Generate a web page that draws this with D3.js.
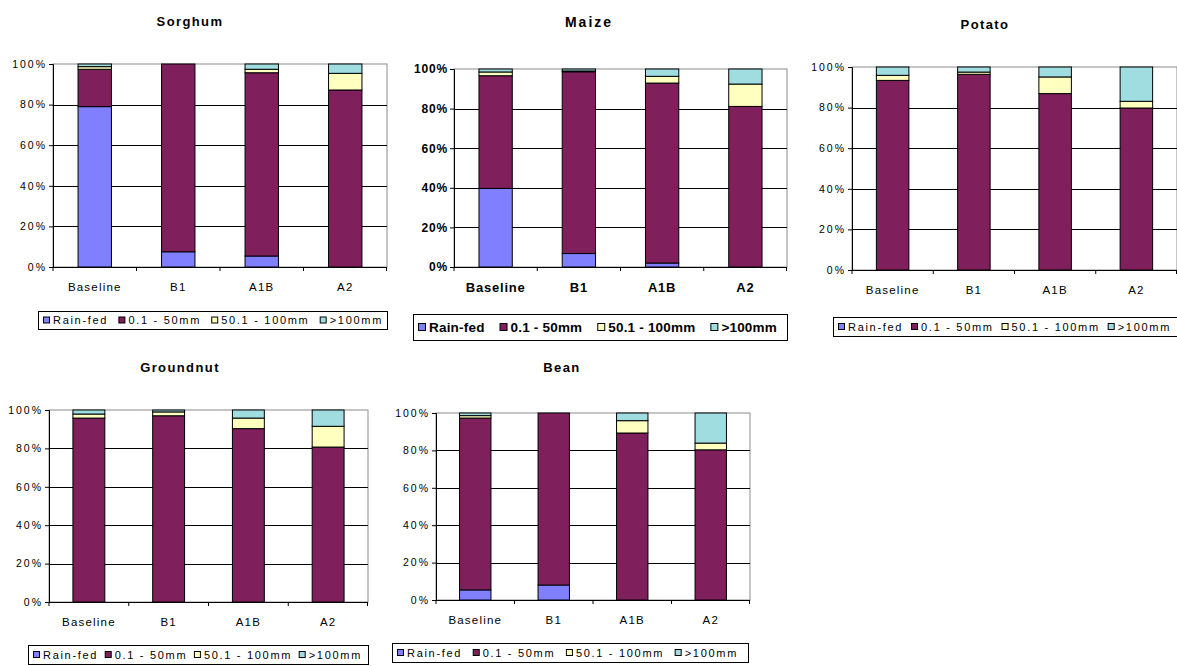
<!DOCTYPE html>
<html>
<head>
<meta charset="utf-8">
<script src="https://cdn.jsdelivr.net/npm/d3@7"></script>
<style>
  html, body { margin: 0; padding: 0; background: #fff; }
  svg { display: block; }
</style>
</head>
<body>
<svg id="chart" width="1177" height="666"></svg>
<script>
// ---------------- DATA ----------------
const scenarios = ["Baseline", "B1", "A1B", "A2"];
const seriesNames = ["Rain-fed", "0.1 - 50mm", "50.1 - 100mm", ">100mm"];
const yTickValues = [0, 20, 40, 60, 80, 100];
const yTickLabels = ["0%", "20%", "40%", "60%", "80%", "100%"];
const cropNames = ["Sorghum", "Maize", "Potato", "Groundnut", "Bean"];

// rows = scenarios, columns = series (percent of area)
const sorghumValues   = [[79.0, 18.4, 1.3, 1.3], [7.5, 92.5, 0, 0],   [5.4, 90.3, 1.7, 2.6], [0, 87.2, 8.2, 4.6]];
const maizeValues     = [[39.7, 56.9, 1.9, 1.5], [6.8, 91.8, 0.4, 1.0], [2.0, 90.9, 3.4, 3.7], [0, 81.1, 11.3, 7.6]];
const potatoValues    = [[0, 93.4, 2.5, 4.1],    [0, 96.4, 1.1, 2.5],  [0, 86.9, 8.2, 4.9],   [0, 79.8, 3.3, 16.9]];
const groundnutValues = [[0, 95.8, 2.1, 2.1],    [0, 97.0, 2.0, 1.0],  [0, 90.3, 5.5, 4.2],   [0, 80.7, 10.8, 8.5]];
const beanValues      = [[5.4, 91.9, 1.3, 1.4],  [8.0, 92.0, 0, 0],    [0, 89.3, 6.6, 4.1],   [0, 80.3, 3.6, 16.1]];

// ---------------- STYLE / LAYOUT ----------------
const seriesColors = ["#7f7fff", "#7f1f5c", "#ffffc0", "#a0dde0"];

const lightStyle = {
  title: { size: 13, weight: "bold", ls: 1.4 },
  tick:  { size: 10.5, weight: "normal", ls: 2 },
  xlab:  { size: 11.5, weight: "normal", ls: 1.2 },
  legend:{ size: 11, weight: "normal", ls: 1.7 }
};
const boldStyle = {
  title: { size: 14, weight: "bold", ls: 2 },
  tick:  { size: 12, weight: "bold", ls: 0.8 },
  xlab:  { size: 13, weight: "bold", ls: 0.8 },
  legend:{ size: 13.5, weight: "bold", ls: 0.2 }
};

const panels = [
  { name: cropNames[0], values: sorghumValues,   plot: { x: 53,  y: 64,  w: 334, h: 203 }, title: { x: 190, y: 26 }, legend: { x: 38,  y: 311, w: 349, h: 18, padR: 4 }, style: lightStyle },
  { name: cropNames[1], values: maizeValues,     plot: { x: 454, y: 69,  w: 333, h: 198 }, title: { x: 589, y: 27 }, legend: { x: 413, y: 314, w: 374, h: 26, padR: 10 }, style: boldStyle },
  { name: cropNames[2], values: potatoValues,    plot: { x: 852, y: 67,  w: 325, h: 203 }, title: { x: 985, y: 29 }, legend: { x: 833, y: 317, w: 352, h: 19, padR: 14 }, style: lightStyle },
  { name: cropNames[3], values: groundnutValues, plot: { x: 49,  y: 410, w: 319, h: 192 }, title: { x: 180, y: 372 }, legend: { x: 28,  y: 645, w: 340, h: 19, padR: 6 }, style: lightStyle },
  { name: cropNames[4], values: beanValues,      plot: { x: 436, y: 413, w: 314, h: 187 }, title: { x: 562, y: 372 }, legend: { x: 392, y: 643, w: 356, h: 19, padR: 10 }, style: lightStyle }
];

const FONT = "'Liberation Sans', Arial, sans-serif";
const svg = d3.select("#chart");
svg.append("rect").attr("width", 1177).attr("height", 666).attr("fill", "#fff");

function styleText(sel, st) {
  sel.attr("font-family", FONT)
     .attr("font-size", st.size)
     .attr("font-weight", st.weight)
     .attr("letter-spacing", st.ls)
     .attr("fill", "#000");
  return sel;
}

panels.forEach(p => {
  const st = p.style;
  const { x: px, y: py, w, h } = p.plot;

  // title
  styleText(svg.append("text"), st.title)
    .attr("x", p.title.x).attr("y", p.title.y)
    .attr("text-anchor", "middle")
    .text(p.name);

  const g = svg.append("g").attr("transform", `translate(${px},${py})`);

  const x = d3.scaleBand().domain(scenarios).range([0, w]).paddingInner(0.6).paddingOuter(0.3);
  const y = d3.scaleLinear().domain([0, 100]).range([h, 0]);

  // plot area border (grey)
  g.append("rect").attr("x", 0).attr("y", 0).attr("width", w).attr("height", h)
    .attr("fill", "#fff").attr("stroke", "#8c8c8c").attr("stroke-width", 1);

  // gridlines
  g.selectAll("line.grid").data(yTickValues.filter(v => v > 0 && v < 100)).enter()
    .append("line").attr("class", "grid")
    .attr("x1", 0).attr("x2", w)
    .attr("y1", d => Math.round(y(d)) + 0.5).attr("y2", d => Math.round(y(d)) + 0.5)
    .attr("stroke", "#000").attr("stroke-width", 1);

  // stacked bars
  const rows = p.values.map((r, i) => {
    const o = { scenario: scenarios[i] };
    seriesNames.forEach((s, j) => o[s] = r[j]);
    return o;
  });
  const stacked = d3.stack().keys(seriesNames)(rows);
  stacked.forEach((layer, li) => {
    g.append("g").selectAll("rect").data(layer.filter(d => d[1] - d[0] > 0)).enter()
      .append("rect")
      .attr("x", d => x(d.data.scenario))
      .attr("width", x.bandwidth())
      .attr("y", d => y(d[1]))
      .attr("height", d => y(d[0]) - y(d[1]))
      .attr("fill", seriesColors[li])
      .attr("stroke", "#000")
      .attr("stroke-width", 1);
  });

  // y axis
  const yAxis = d3.axisLeft(y).tickValues(yTickValues).tickSize(4)
    .tickFormat((d, i) => yTickLabels[i]);
  const ya = g.append("g").call(yAxis);
  ya.select(".domain").attr("stroke", "#000");
  ya.selectAll(".tick line").attr("stroke", "#000");
  ya.selectAll(".tick text").each(function () { styleText(d3.select(this), st.tick); })
    .attr("x", -6);

  // x axis
  const xa = g.append("g").attr("transform", `translate(0,${h})`);
  xa.append("line").attr("x1", 0).attr("x2", w).attr("y1", 0.5).attr("y2", 0.5).attr("stroke", "#000");
  const step = x.step();
  xa.selectAll("line.xt").data(d3.range(scenarios.length + 1)).enter()
    .append("line").attr("class", "xt")
    .attr("x1", i => Math.min(i * step, w - 0.5)).attr("x2", i => Math.min(i * step, w - 0.5))
    .attr("y1", 0).attr("y2", 4).attr("stroke", "#000");
  xa.selectAll("text").data(scenarios).enter().append("text")
    .call(s => styleText(s, st.xlab))
    .attr("x", d => x(d) + x.bandwidth() / 2)
    .attr("y", 20)
    .attr("dy", "0.35em")
    .attr("text-anchor", "middle")
    .text(d => d);

  // legend (items spread across the box)
  const L = p.legend;
  const lg = svg.append("g").attr("transform", `translate(${L.x},${L.y})`);
  lg.append("rect").attr("x", 0.5).attr("y", 0.5).attr("width", L.w).attr("height", L.h)
    .attr("fill", "#fff").attr("stroke", "#000").attr("stroke-width", 1);
  const sq = st === boldStyle ? 8 : 7;
  const padL = 5;
  const items = seriesNames.map((s, i) => {
    const it = lg.append("g");
    it.append("rect").attr("x", 0.5).attr("y", L.h / 2 - sq / 2 + 0.5)
      .attr("width", sq - 1).attr("height", sq - 1)
      .attr("fill", seriesColors[i]).attr("stroke", "#000").attr("stroke-width", 1);
    const t = styleText(it.append("text"), st.legend)
      .attr("x", sq + 3).attr("y", L.h / 2 + 0.5).attr("dy", "0.35em")
      .text(s);
    return { g: it, w: sq + 3 + t.node().getComputedTextLength() };
  });
  const total = d3.sum(items, d => d.w);
  const gap = Math.max(3, (L.w - padL - L.padR - total) / (items.length - 1));
  let cx = padL;
  items.forEach(it => {
    it.g.attr("transform", `translate(${cx},0)`);
    cx += it.w + gap;
  });
});
</script>
</body>
</html>
